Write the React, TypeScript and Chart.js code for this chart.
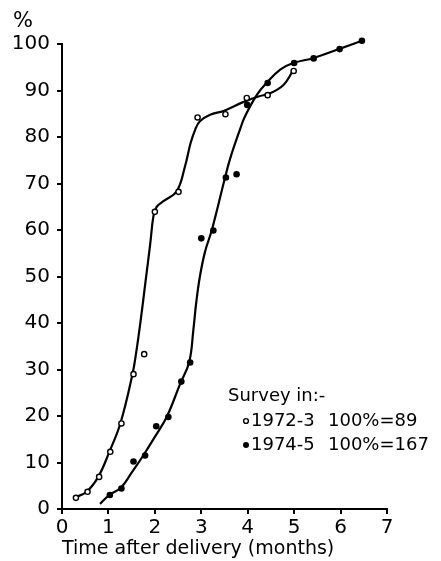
import { useEffect, useRef } from 'react';
import { Chart, registerables } from 'chart.js';

Chart.register(...registerables);

// Observed points, survey 1972-3 (open circles)
const survey1972X = [0.30, 0.55, 0.80, 1.04, 1.28, 1.54, 1.77, 2.00, 2.51, 2.92, 3.52, 3.98, 4.43, 4.99];
const survey1972Y = [2.4, 3.7, 6.9, 12.3, 18.4, 29.0, 33.3, 63.9, 68.2, 84.2, 84.9, 88.4, 89.0, 94.2];

// Observed points, survey 1974-5 (filled circles)
const survey1974X = [1.03, 1.28, 1.54, 1.79, 2.03, 2.29, 2.57, 2.76, 3.00, 3.26, 3.53, 3.76, 3.99, 4.43, 5.00, 5.42, 5.98, 6.46];
const survey1974Y = [3.0, 4.4, 10.2, 11.5, 17.8, 19.8, 27.4, 31.5, 58.2, 59.9, 71.3, 72.0, 86.9, 91.6, 95.9, 96.9, 98.9, 100.7];

// Hand-drawn fitted curves
const curve1972X = [0.28, 0.53, 0.78, 1.02, 1.26, 1.52, 1.60, 1.70, 1.80, 1.90, 1.97, 2.04, 2.20, 2.47, 2.65, 2.77, 2.87, 2.97, 3.19, 3.48, 3.90, 4.23, 4.48, 4.77, 4.96];
const curve1972Y = [2.5, 3.7, 6.9, 12.3, 18.5, 29.1, 33.8, 41.0, 49.0, 57.0, 63.0, 65.0, 66.3, 68.3, 73.7, 78.7, 81.6, 83.4, 84.8, 85.6, 87.5, 88.7, 89.4, 91.2, 94.0];

const curve1974X = [0.82, 1.03, 1.26, 1.50, 1.75, 2.00, 2.26, 2.54, 2.74, 2.83, 2.89, 2.97, 3.08, 3.23, 3.50, 3.62, 3.84, 3.94, 4.20, 4.41, 4.70, 4.98, 5.42, 5.96, 6.46];
const curve1974Y = [1.1, 3.1, 4.5, 7.8, 11.5, 15.5, 19.9, 26.8, 31.6, 38.6, 44.3, 50.0, 55.3, 60.1, 70.8, 75.3, 81.8, 84.4, 89.1, 91.7, 94.5, 95.9, 97.0, 98.9, 100.7];

const xTickValues = [0, 1, 2, 3, 4, 5, 6, 7];
const yTickValues = [0, 10, 20, 30, 40, 50, 60, 70, 80, 90, 100];

const xTitle = 'Time after delivery (months)';
const yUnit = '%';
const legendHeading = 'Survey in:-';
const legendSurveys = ['1972-3', '1974-5'];
const legendTotals = ['100%=89', '100%=167'];

const FONT = '"DejaVu Sans", sans-serif';

const toPoints = (xs: number[], ys: number[]) => xs.map((x, i) => ({ x, y: ys[i] }));

const textPlugin = {
  id: 'textPlugin',
  afterDraw(chart: any) {
    const ctx = chart.ctx as CanvasRenderingContext2D;
    ctx.save();
    ctx.fillStyle = '#000';
    ctx.strokeStyle = '#000';
    ctx.textBaseline = 'middle';
    ctx.textAlign = 'left';
    ctx.font = `21px ${FONT}`;
    ctx.fillText(yUnit, 13, 22);

    ctx.font = `18px ${FONT}`;
    ctx.fillText(legendHeading, 228, 396);
    const rowsY = [421, 445];
    legendSurveys.forEach((label, i) => {
      const y = rowsY[i];
      ctx.beginPath();
      ctx.arc(246, y, i === 0 ? 2.4 : 3, 0, Math.PI * 2);
      if (i === 0) {
        ctx.fillStyle = '#fff';
        ctx.fill();
        ctx.lineWidth = 1.4;
        ctx.stroke();
      } else {
        ctx.fillStyle = '#000';
        ctx.fill();
      }
      ctx.fillStyle = '#000';
      ctx.fillText(label, 251, y);
      ctx.fillText(legendTotals[i], 328, y);
    });
    ctx.restore();
  },
};

export default function App() {
  const ref = useRef<HTMLCanvasElement | null>(null);

  useEffect(() => {
    if (!ref.current) return;
    const chart = new Chart(ref.current, {
      type: 'scatter',
      data: {
        datasets: [
          {
            label: '1972-3',
            data: toPoints(survey1972X, survey1972Y),
            pointStyle: 'circle',
            pointRadius: 2.6,
            pointBorderWidth: 1.4,
            pointBackgroundColor: '#fff',
            pointBorderColor: '#000',
            showLine: false,
            clip: false,
          },
          {
            label: '1974-5',
            data: toPoints(survey1974X, survey1974Y),
            pointStyle: 'circle',
            pointRadius: 3.3,
            pointBorderWidth: 0,
            pointBackgroundColor: '#000',
            pointBorderColor: '#000',
            showLine: false,
            clip: false,
          },
          {
            type: 'line',
            label: 'curve 1972-3',
            data: toPoints(curve1972X, curve1972Y),
            borderColor: '#000',
            borderWidth: 2.2,
            pointRadius: 0,
            fill: false,
            tension: 0.4,
            clip: false,
          } as any,
          {
            type: 'line',
            label: 'curve 1974-5',
            data: toPoints(curve1974X, curve1974Y),
            borderColor: '#000',
            borderWidth: 2.2,
            pointRadius: 0,
            fill: false,
            tension: 0.4,
            clip: false,
          } as any,
        ],
      },
      options: {
        responsive: false,
        animation: false,
        devicePixelRatio: 1,
        layout: { padding: { top: 44, right: 54, bottom: 0, left: 0 } },
        plugins: {
          legend: { display: false },
          tooltip: { enabled: false },
        },
        scales: {
          x: {
            type: 'linear',
            min: 0,
            max: 7,
            afterFit: (s: any) => { s.height = 52; },
            afterBuildTicks: (s: any) => { s.ticks = xTickValues.map((v) => ({ value: v })); },
            border: { display: true, color: '#000', width: 2 },
            grid: { display: true, drawOnChartArea: false, drawTicks: true, tickLength: 5, color: '#000', lineWidth: 2 },
            ticks: { color: '#000', padding: 2, font: { family: FONT, size: 20 } },
            title: { display: true, text: xTitle, align: 'start', color: '#000', font: { family: FONT, size: 19 }, padding: { top: 0, bottom: 1 } },
          },
          y: {
            type: 'linear',
            min: 0,
            max: 100,
            afterFit: (s: any) => { s.width = 62; },
            afterBuildTicks: (s: any) => { s.ticks = yTickValues.map((v) => ({ value: v })); },
            border: { display: true, color: '#000', width: 2 },
            grid: { display: true, drawOnChartArea: false, drawTicks: true, tickLength: 5, color: '#000', lineWidth: 2 },
            ticks: { color: '#000', padding: 7, font: { family: FONT, size: 20 } },
          },
        },
      },
      plugins: [textPlugin],
    } as any);
    return () => chart.destroy();
  }, []);

  return (
    <div style={{ position: 'absolute', left: 0, top: 0, width: 441, height: 561, background: '#fff' }}>
      <canvas ref={ref} width={441} height={561} style={{ display: 'block' }} />
    </div>
  );
}
